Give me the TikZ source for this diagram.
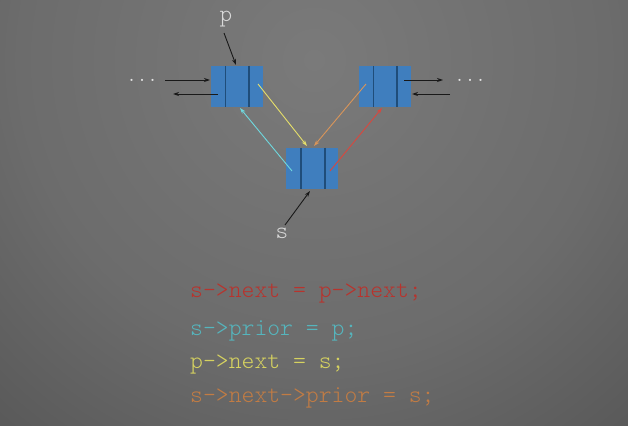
\documentclass[tikz,border=0pt]{standalone}
\usepackage{fontspec}
\setmonofont{Latin Modern Mono Light}
\usetikzlibrary{arrows.meta,calc}
\definecolor{bgA}{HTML}{7A7A7A}
\definecolor{bgB}{HTML}{6C6C6C}
\definecolor{bgC}{HTML}{4F4F4F}
\definecolor{bgE}{HTML}{3C3C3C}
\definecolor{bgD}{HTML}{303030}
\definecolor{cellblue}{HTML}{3F7EBE}
\definecolor{celldiv}{HTML}{1F4D7A}
\definecolor{cyellow}{HTML}{E6DF6A}
\definecolor{corange}{HTML}{D9955A}
\definecolor{ccyan}{HTML}{6FD8DE}
\definecolor{cred}{HTML}{D9473E}
\definecolor{tred}{HTML}{B8332D}
\definecolor{tcyan}{HTML}{55B5BD}
\definecolor{tyellow}{HTML}{D6D260}
\definecolor{torange}{HTML}{C27C44}
\pgfdeclareradialshading{bgshade}{\pgfpoint{0bp}{0bp}}{color(0bp)=(bgA); color(15bp)=(bgB); color(30bp)=(bgC); color(40bp)=(bgE); color(50bp)=(bgD)}
\tikzset{
  cellbox/.style={draw=none, fill=cellblue, minimum width=52pt, minimum height=41pt, inner sep=0pt, outer sep=0pt},
  divider/.style={celldiv, line width=1.2pt},
  ptr/.style={line width=0.9pt, -{Stealth[length=6pt,width=4pt]}},
  codetxt/.style={font=\ttfamily\fontsize{24.5}{26}\selectfont, anchor=base west, inner sep=0pt},
  lbl/.style={font=\ttfamily\fontsize{24}{26}\selectfont, text=black!15, inner sep=0pt, anchor=base},
  dots/.style={font=\ttfamily\fontsize{20}{22}\selectfont, text=black!10, inner sep=0pt}
}
\begin{document}
\begin{tikzpicture}[x=1pt,y=-1pt]
\useasboundingbox (0,0) rectangle (628,425);
\begin{scope}
\clip (0,0) rectangle (628,425);
\shade[shading=bgshade] (314,60) circle (490);
\end{scope}
% boxes
\node[cellbox] (pbox) at (237,86.5) {};
\node[cellbox] (qbox) at (385,86.5) {};
\node[cellbox] (sbox) at (312,168) {};
\draw[divider] ($(pbox.north west)+(14.5,0)$) -- ($(pbox.south west)+(14.5,0)$);
\draw[divider] ($(pbox.north west)+(38,0)$) -- ($(pbox.south west)+(38,0)$);
\draw[divider] ($(qbox.north west)+(14.5,0)$) -- ($(qbox.south west)+(14.5,0)$);
\draw[divider] ($(qbox.north west)+(38,0)$) -- ($(qbox.south west)+(38,0)$);
\draw[divider] ($(sbox.north west)+(15,0)$) -- ($(sbox.south west)+(15,0)$);
\draw[divider] ($(sbox.north west)+(39,0)$) -- ($(sbox.south west)+(39,0)$);
% labels
\node[lbl] (plbl) at (226,22) {p};
\node[lbl] (slbl) at (282,238) {s};
\node[dots] (ldots) at (142,80) {...};
\node[dots] (rdots) at (470,80) {...};
% coordinates
\coordinate (pin) at (224,33);
\coordinate (ptop) at (236,65);
\coordinate (lin0) at (165,80);
\coordinate (lin1) at (210,80);
\coordinate (lout0) at (218,94);
\coordinate (lout1) at (173,94);
\coordinate (rout0) at (404,80);
\coordinate (rout1) at (443,80);
\coordinate (rin0) at (450,94);
\coordinate (rin1) at (412,94);
\coordinate (ys) at (258,84);
\coordinate (ye) at (307,146);
\coordinate (os) at (366,84);
\coordinate (oe) at (314,146);
\coordinate (cs) at (292,171);
\coordinate (ce) at (240,108);
\coordinate (rs) at (330,171);
\coordinate (re) at (382,108);
\coordinate (sin) at (285,225);
\coordinate (stop) at (310,191);
% black pointers
\draw[ptr, black!90] (pin) -- (ptop);
\draw[ptr, black!90] (lin0) -- (lin1);
\draw[ptr, black!90] (lout0) -- (lout1);
\draw[ptr, black!90] (rout0) -- (rout1);
\draw[ptr, black!90] (rin0) -- (rin1);
\draw[ptr, black!90] (sin) -- (stop);
% coloured pointers
\draw[ptr, cyellow] (ys) -- (ye);
\draw[ptr, corange] (os) -- (oe);
\draw[ptr, ccyan] (cs) -- (ce);
\draw[ptr, cred] (rs) -- (re);
% code
\node[codetxt, text=tred] (l1) at (190,297) {s->next = p->next;};
\node[codetxt, text=tcyan] (l2) at (190,335) {s->prior = p;};
\node[codetxt, text=tyellow] (l3) at (190,368.5) {p—>next = s;};
\node[codetxt, text=torange] (l4) at (190,402) {s->next->prior = s;};
\end{tikzpicture}
\end{document}
